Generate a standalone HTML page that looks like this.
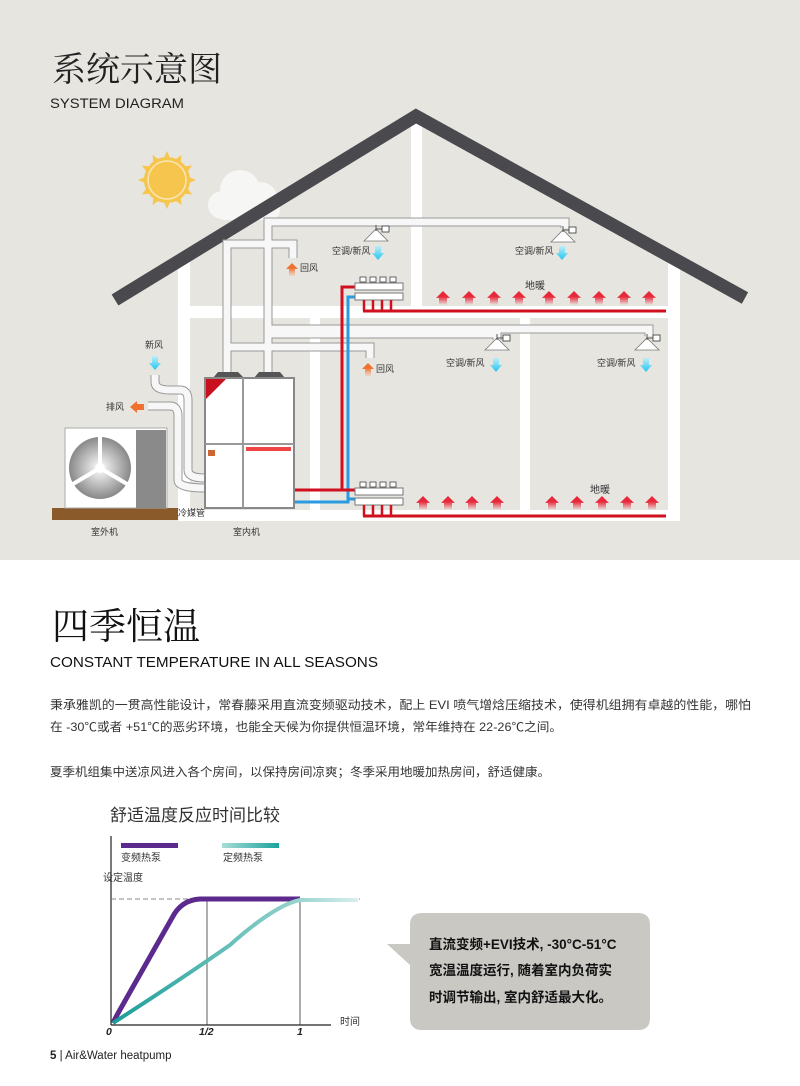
<!DOCTYPE html>
<html><head><meta charset="utf-8"><style>
html,body{margin:0;padding:0;background:#fff;}
svg{display:block;}
text{font-family:"Liberation Sans","Noto Sans CJK SC",sans-serif;}
.s{font-family:"Liberation Serif","Noto Serif CJK SC",serif;}
</style></head><body>
<svg width="800" height="1086" viewBox="0 0 800 1086" xmlns="http://www.w3.org/2000/svg">
<defs>
<linearGradient id="ar" x1="0" y1="1" x2="0" y2="0"><stop offset="0" stop-color="#e8283a" stop-opacity="0"/><stop offset="0.6" stop-color="#e8283a"/></linearGradient>
<linearGradient id="ab" x1="0" y1="0" x2="0" y2="1"><stop offset="0" stop-color="#bdeefa"/><stop offset="1" stop-color="#22c4ee"/></linearGradient>
<linearGradient id="ao" x1="0" y1="1" x2="0" y2="0"><stop offset="0" stop-color="#f4a070" stop-opacity="0.2"/><stop offset="0.6" stop-color="#f07030"/></linearGradient>
<linearGradient id="tg" x1="0" y1="0" x2="1" y2="0"><stop offset="0" stop-color="#1a9e98"/><stop offset="0.7" stop-color="#8ccfc9"/><stop offset="1" stop-color="#d8eeec"/></linearGradient>
<linearGradient id="tl" x1="0" y1="0" x2="1" y2="0"><stop offset="0" stop-color="#a8dcd8"/><stop offset="1" stop-color="#19a39b"/></linearGradient>
<radialGradient id="fan" cx="0.5" cy="0.5" r="0.5"><stop offset="0" stop-color="#fff"/><stop offset="1" stop-color="#888"/></radialGradient>
<g id="up"><path d="M-4 0 L4 0 L4 -7 L7 -7 L0 -14 L-7 -7 L-4 -7 Z" fill="url(#ar)"/></g>
<g id="dn"><path d="M-3 -12 L3 -12 L3 -5 L6 -5 L0 2 L-6 -5 L-3 -5 Z" fill="url(#ab)"/></g>
<g id="ru"><path d="M-3 0 L3 0 L3 -7 L6 -7 L0 -13 L-6 -7 L-3 -7 Z" fill="url(#ao)"/></g>
<g id="dif"><path d="M-12 16 L0 4 L12 16 Z" fill="#fff" stroke="#777" stroke-width="0.8"/><line x1="0" y1="0" x2="0" y2="6" stroke="#555"/><line x1="0" y1="4" x2="6" y2="4" stroke="#555"/><rect x="6" y="1" width="7" height="6" fill="#fff" stroke="#333" stroke-width="0.8"/></g>
<g id="man"><rect x="0" y="0" width="48" height="7" fill="#fff" stroke="#777"/><rect x="0" y="10" width="48" height="7" fill="#fff" stroke="#777"/>
<rect x="5" y="-6" width="6" height="5" fill="#fff" stroke="#444" stroke-width="0.8"/><rect x="15" y="-6" width="6" height="5" fill="#fff" stroke="#444" stroke-width="0.8"/><rect x="25" y="-6" width="6" height="5" fill="#fff" stroke="#444" stroke-width="0.8"/><rect x="35" y="-6" width="6" height="5" fill="#fff" stroke="#444" stroke-width="0.8"/>
<path d="M9 17 V28 M18 17 V28 M27 17 V28 M36 17 V28" stroke="#d0101e" stroke-width="2.5"/></g>
</defs>
<rect x="0" y="0" width="800" height="560" fill="#e7e5e0"/>
<text x="52" y="81" font-size="34" fill="#222" class="s">系统示意图</text>
<text x="50" y="108" font-size="13.5" fill="#222" textLength="134" lengthAdjust="spacingAndGlyphs">SYSTEM DIAGRAM</text>
<!-- sun -->
<g transform="translate(167,180)" fill="#f6c54e">
<circle r="23"/>
<g id="rays"><path d="M-3 -22 L0 -29 L3 -22 Z"/><path d="M-3 22 L0 29 L3 22 Z"/><path d="M-22 -3 L-29 0 L-22 3Z"/><path d="M22 -3 L29 0 L22 3Z"/></g>
<use href="#rays" transform="rotate(30)"/><use href="#rays" transform="rotate(60)"/>
<circle r="19" fill="none" stroke="#fbe6b2" stroke-width="1.5"/>
</g>
<!-- cloud -->
<g fill="#f6f6f5"><circle cx="240" cy="190" r="20"/><circle cx="260" cy="200" r="18"/><circle cx="222" cy="205" r="14"/><rect x="215" y="198" width="65" height="22" rx="10"/></g>
<!-- house walls -->
<g fill="#fff">
<rect x="178" y="255" width="12" height="266"/>
<rect x="668" y="255" width="12" height="266"/>
<rect x="178" y="306" width="502" height="12"/>
<rect x="178" y="510" width="502" height="11"/>
<rect x="411" y="120" width="11" height="190"/>
<rect x="310" y="316" width="10" height="195"/>
<rect x="520" y="316" width="10" height="195"/>
</g>
<path d="M115 300 L416 116 L745 298" fill="none" stroke="#4a4a4e" stroke-width="13"/>
<!-- outdoor unit -->
<rect x="52" y="508" width="126" height="12" fill="#8b5a2b"/>
<rect x="65" y="428" width="102" height="80" fill="#fff" stroke="#aaa"/>
<rect x="136" y="430" width="30" height="78" fill="#8a8a8a"/>
<circle cx="100" cy="468" r="31" fill="url(#fan)"/>
<g stroke="#fff" stroke-width="4"><line x1="100" y1="468" x2="100" y2="436"/><line x1="100" y1="468" x2="73" y2="484"/><line x1="100" y1="468" x2="127" y2="484"/></g>
<circle cx="100" cy="468" r="5" fill="#fff"/>
<!-- ducts -->
<g fill="none" stroke-linejoin="miter">
<g stroke="#999" stroke-width="9">
<path d="M227 378 V244 H293 V258"/>
<path d="M268 378 V222 H565 V228"/>
<path d="M268 340 V329 H649 V336"/>
<path d="M268 345 V334 H497 V340"/>
<path d="M227 378 V347 H370 V358"/>
<path d="M155 375 V382 Q155 390 170 390 H180 Q188 390 188 400 V470 Q188 478 205 478"/>
<path d="M148 406 H170 Q178 406 178 416 V480 Q178 488 205 488"/>
</g>
<g stroke="#f7f7f7" stroke-width="7">
<path d="M227 378 V244 H293 V258"/>
<path d="M268 378 V222 H565 V228"/>
<path d="M268 340 V329 H649 V336"/>
<path d="M268 345 V334 H497 V340"/>
<path d="M227 378 V347 H370 V358"/>
<path d="M155 375 V382 Q155 390 170 390 H180 Q188 390 188 400 V470 Q188 478 205 478"/>
<path d="M148 406 H170 Q178 406 178 416 V480 Q178 488 205 488"/>
</g>
</g>
<!-- pipes -->
<g fill="none" stroke-width="3">
<path d="M294 490 H342 V287 H356" stroke="#d0101e"/>
<path d="M294 502 H348 V297 H356" stroke="#2a9be0"/>
<path d="M342 490 H356" stroke="#d0101e"/>
<path d="M348 499 H356" stroke="#2a9be0"/>
</g>
<use href="#man" x="355" y="283"/>
<use href="#man" x="355" y="488"/>
<g stroke="#d0101e" stroke-width="3"><line x1="363" y1="311" x2="666" y2="311"/><line x1="363" y1="516" x2="666" y2="516"/></g>
<!-- indoor unit -->
<path d="M213 378 L218 372 H238 L244 378 Z" fill="#555"/><path d="M254 378 L259 372 H280 L285 378 Z" fill="#555"/>
<rect x="205" y="378" width="89" height="130" fill="#fff" stroke="#888" stroke-width="2"/>
<line x1="243" y1="378" x2="243" y2="508" stroke="#999" stroke-width="2"/>
<line x1="205" y1="444" x2="294" y2="444" stroke="#999" stroke-width="2"/>
<path d="M206 379 H226 L206 399 Z" fill="#c8101e"/>
<rect x="246" y="447" width="45" height="4" fill="#e44"/>
<rect x="208" y="450" width="7" height="6" fill="#c63"/>
<!-- arrows -->
<g>
<use href="#up" x="443" y="305"/><use href="#up" x="469" y="305"/><use href="#up" x="494" y="305"/><use href="#up" x="519" y="305"/>
<use href="#up" x="549" y="305"/><use href="#up" x="574" y="305"/><use href="#up" x="599" y="305"/><use href="#up" x="624" y="305"/><use href="#up" x="649" y="305"/>
<use href="#up" x="423" y="510"/><use href="#up" x="448" y="510"/><use href="#up" x="472" y="510"/><use href="#up" x="497" y="510"/>
<use href="#up" x="552" y="510"/><use href="#up" x="577" y="510"/><use href="#up" x="602" y="510"/><use href="#up" x="627" y="510"/><use href="#up" x="652" y="510"/>
<use href="#dn" x="378" y="258"/><use href="#dn" x="562" y="258"/><use href="#dn" x="496" y="370"/><use href="#dn" x="646" y="370"/><use href="#dn" x="155" y="368"/>
<use href="#ru" x="292" y="276"/><use href="#ru" x="368" y="376"/>
<path d="M130 407 L137 401 V404 H144 V410 H137 V413 Z" fill="#f07030"/>
</g>
<use href="#dif" x="376" y="225"/><use href="#dif" x="563" y="226"/><use href="#dif" x="497" y="334"/><use href="#dif" x="647" y="334"/>
<g font-size="9" fill="#333">
<text x="332" y="254">空调/新风</text><text x="515" y="254">空调/新风</text>
<text x="446" y="366">空调/新风</text><text x="597" y="366">空调/新风</text>
<text x="300" y="271">回风</text><text x="376" y="372">回风</text>
<text x="525" y="289" font-size="10">地暖</text><text x="590" y="493" font-size="10">地暖</text>
<text x="145" y="348">新风</text><text x="106" y="410">排风</text>
<text x="178" y="516">冷媒管</text>
<text x="91" y="535">室外机</text><text x="233" y="535">室内机</text>
</g>
<!-- section 2 -->
<text x="52" y="639" font-size="37" fill="#111" class="s">四季恒温</text>
<text x="50" y="667" font-size="14.5" fill="#111" textLength="328" lengthAdjust="spacingAndGlyphs">CONSTANT TEMPERATURE IN ALL SEASONS</text>
<g font-size="12" fill="#333">
<text x="50" y="709" textLength="701" lengthAdjust="spacingAndGlyphs">秉承雅凯的一贯高性能设计，常春藤采用直流变频驱动技术，配上 EVI 喷气增焓压缩技术，使得机组拥有卓越的性能，哪怕</text>
<text x="50" y="731" textLength="512" lengthAdjust="spacingAndGlyphs">在 -30℃或者 +51℃的恶劣环境，也能全天候为你提供恒温环境，常年维持在 22-26℃之间。</text>
<text x="50" y="776" textLength="500" lengthAdjust="spacingAndGlyphs">夏季机组集中送凉风进入各个房间，以保持房间凉爽；冬季采用地暖加热房间，舒适健康。</text>
</g>
<!-- chart -->
<text x="110" y="821" font-size="17" fill="#333">舒适温度反应时间比较</text>
<rect x="121" y="843" width="57" height="5" fill="#5c2a8c"/>
<rect x="222" y="843" width="57" height="5" fill="url(#tl)"/>
<text x="121" y="861" font-size="10" fill="#333">变频热泵</text>
<text x="223" y="861" font-size="10" fill="#333">定频热泵</text>
<text x="103" y="881" font-size="10" fill="#333">设定温度</text>
<line x1="111" y1="836" x2="111" y2="1025" stroke="#222" stroke-width="1.2"/>
<line x1="111" y1="1025" x2="331" y2="1025" stroke="#222" stroke-width="1.2"/>
<line x1="111" y1="899" x2="360" y2="899" stroke="#888" stroke-dasharray="5 3"/>
<line x1="207" y1="899" x2="207" y2="1025" stroke="#333" stroke-width="0.8"/>
<line x1="300" y1="899" x2="300" y2="1025" stroke="#333" stroke-width="0.8"/>
<path d="M113 1023 L117 1015 L172 918 Q181 900 200 899 L300 899" fill="none" stroke="#5c2a8c" stroke-width="5"/>
<path d="M113 1023 Q180 980 230 945 Q275 905 300 900 L358 900" fill="none" stroke="url(#tg)" stroke-width="4"/>
<g font-size="10.5" font-style="italic" font-weight="bold" fill="#222" class="s">
<text x="106" y="1035">0</text><text x="199" y="1035">1/2</text><text x="297" y="1035">1</text></g>
<text x="340" y="1025" font-size="10" fill="#333">时间</text>
<path d="M420 913 H638 Q650 913 650 925 V1018 Q650 1030 638 1030 H422 Q410 1030 410 1018 V965 L387 944 L410 944 V925 Q410 913 422 913 Z" fill="#c9c8c3"/>
<g font-size="13.5" font-weight="bold" fill="#111" class="s">
<text x="429" y="949">直流变频+EVI技术, -30°C-51°C</text>
<text x="429" y="975">宽温温度运行, 随着室内负荷实</text>
<text x="429" y="1002">时调节输出, 室内舒适最大化。</text>
</g>
<text x="50" y="1059" font-size="11.5" fill="#222"><tspan font-weight="bold">5</tspan>  |  Air&amp;Water heatpump</text>
</svg>
</body></html>
